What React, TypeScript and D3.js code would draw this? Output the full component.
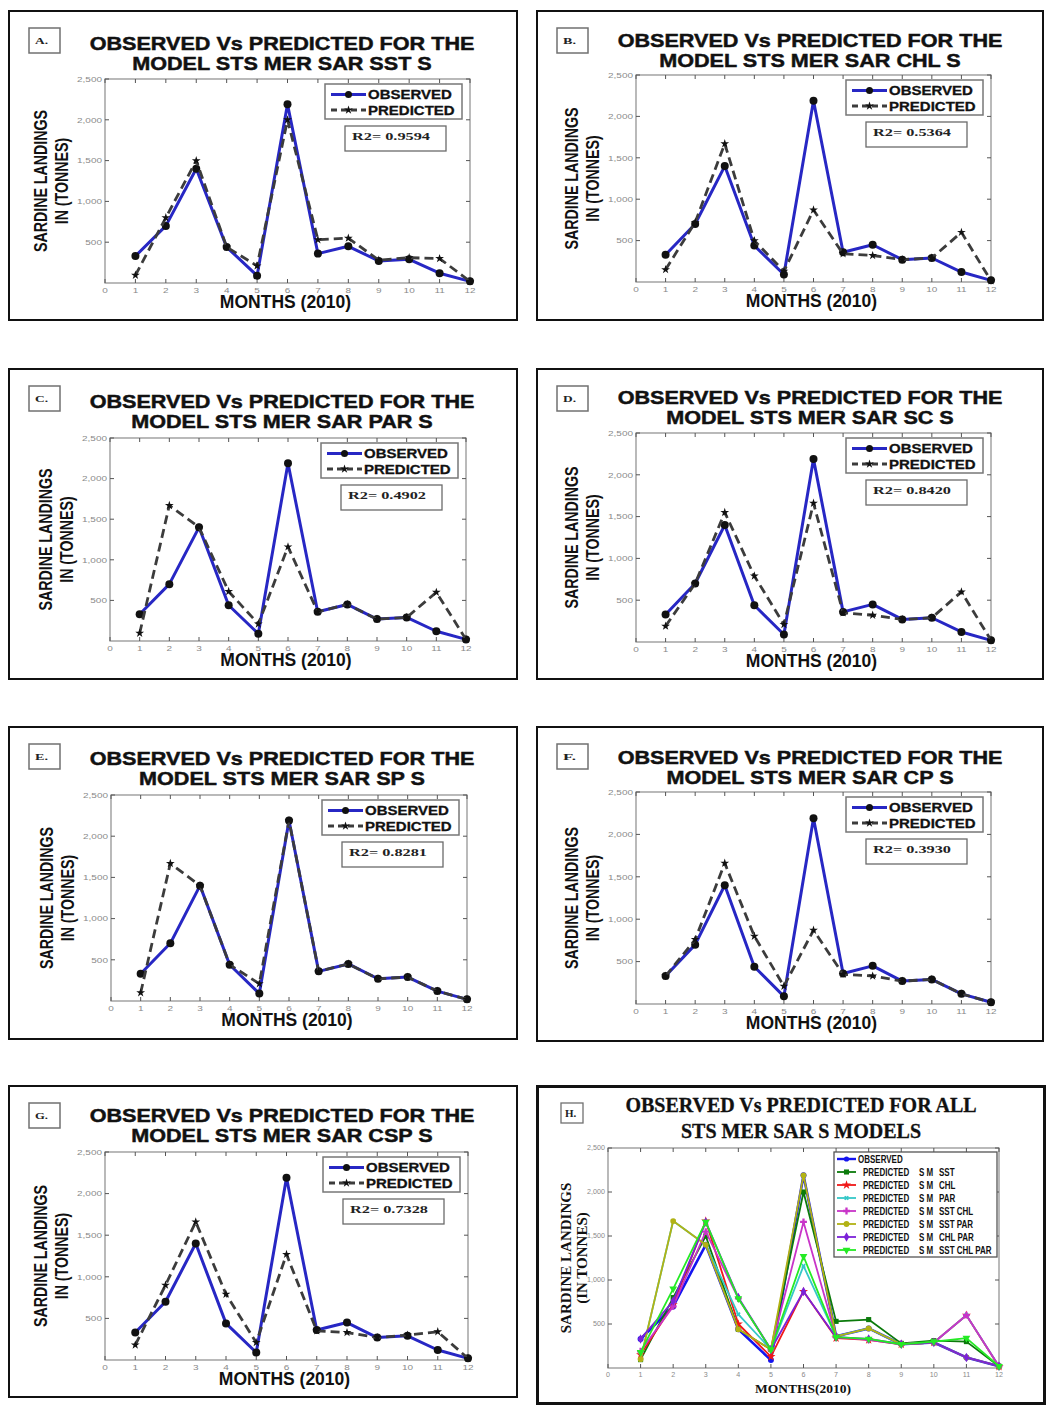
import React, { useRef, useEffect } from 'react';
import * as d3 from 'd3';

// months of 2010 and axis ticks
const months = [1, 2, 3, 4, 5, 6, 7, 8, 9, 10, 11, 12];
const xTicks = [0, 1, 2, 3, 4, 5, 6, 7, 8, 9, 10, 11, 12];
const yTicks = [500, 1000, 1500, 2000, 2500];

// sardine landings (tonnes)
const observed = [330, 700, 1400, 440, 90, 2190, 360, 450, 270, 290, 120, 20];
const predSST = [95, 800, 1500, 440, 210, 2000, 530, 550, 280, 310, 300, 20];
const predCHL = [150, 720, 1670, 500, 130, 870, 340, 320, 270, 290, 600, 15];
const predPAR = [95, 1670, 1400, 610, 210, 1160, 360, 450, 270, 290, 600, 20];
const predSC = [190, 700, 1550, 790, 210, 1660, 350, 320, 270, 290, 600, 20];
const predSP = [100, 1670, 1400, 440, 210, 2190, 360, 450, 270, 290, 120, 20];
const predCP = [330, 760, 1660, 800, 210, 870, 350, 330, 270, 290, 120, 20];
const predCSP = [180, 900, 1660, 790, 210, 1270, 350, 330, 270, 300, 340, 20];

const panelLetters = ['A.', 'B.', 'C.', 'D.', 'E.', 'F.', 'G.'];
const modelNames = ['SST', 'CHL', 'PAR', 'SC', 'SP', 'CP', 'CSP'];
const r2Labels = ['0.9594', '0.5364', '0.4902', '0.8420', '0.8281', '0.3930', '0.7328'];
const predictions = [predSST, predCHL, predPAR, predSC, predSP, predCP, predCSP];

// panel H legend
const allModelLabels = ['SST', 'CHL', 'PAR', 'SST CHL', 'SST PAR', 'CHL PAR', 'SST CHL PAR'];

const SANS = "'Liberation Sans', Arial, Helvetica, sans-serif";
const SERIF = "'Liberation Serif', 'Times New Roman', serif";

const allColors = ['#0b7a0b', '#f01818', '#35c8c8', '#c834c8', '#b2b214', '#7c22d8', '#24ea24'];
const allSymbols = [d3.symbolSquare, d3.symbolStar, d3.symbolCross, d3.symbolCross, d3.symbolCircle, d3.symbolDiamond, d3.symbolTriangle];
const allRotate = [0, 0, 45, 0, 0, 0, 180];

// where each small panel sits on the page (box + plot frame, relative)
const PANELS = [
  { x: 8, y: 10, w: 510, h: 311, pl: 97, pr: 462, pt: 69, pb: 273, tb: 40 },
  { x: 536, y: 10, w: 508, h: 311, pl: 100, pr: 455, pt: 65, pb: 272, tb: 37 },
  { x: 8, y: 368, w: 510, h: 312, pl: 102, pr: 458, pt: 70, pb: 273, tb: 40 },
  { x: 536, y: 368, w: 508, h: 312, pl: 100, pr: 455, pt: 65, pb: 274, tb: 36 },
  { x: 8, y: 726, w: 510, h: 314, pl: 103, pr: 459, pt: 69, pb: 275, tb: 39 },
  { x: 536, y: 726, w: 508, h: 316, pl: 100, pr: 455, pt: 66, pb: 278, tb: 38 },
  { x: 8, y: 1085, w: 510, h: 313, pl: 97, pr: 460, pt: 67, pb: 275, tb: 37 },
];
const HP = { x: 536, y: 1085, w: 510, h: 320, pl: 72, pr: 463, pt: 63, pb: 283 };

const fmt = d3.format(',');

function frameAndTicks(g, x, y, p, tickLen, labelSize, labelScale) {
  g.append('rect')
    .attr('x', p.pl).attr('y', p.pt)
    .attr('width', p.pr - p.pl).attr('height', p.pb - p.pt)
    .attr('fill', '#fff').attr('stroke', '#8c8c8c').attr('stroke-width', 1.2);

  xTicks.forEach(v => {
    g.append('line').attr('x1', x(v)).attr('x2', x(v)).attr('y1', p.pt).attr('y2', p.pt + tickLen)
      .attr('stroke', '#555').attr('stroke-width', 1);
    g.append('line').attr('x1', x(v)).attr('x2', x(v)).attr('y1', p.pb).attr('y2', p.pb - tickLen)
      .attr('stroke', '#555').attr('stroke-width', 1);
    g.append('text')
      .attr('transform', `translate(${x(v)},${p.pb + labelSize + 2}) scale(${labelScale},1)`)
      .attr('text-anchor', 'middle')
      .attr('font-family', SANS).attr('font-size', labelSize).attr('fill', '#8a8a8a')
      .text(v);
  });
  yTicks.forEach(v => {
    g.append('line').attr('x1', p.pl).attr('x2', p.pl + tickLen).attr('y1', y(v)).attr('y2', y(v))
      .attr('stroke', '#555').attr('stroke-width', 1);
    g.append('line').attr('x1', p.pr).attr('x2', p.pr - tickLen).attr('y1', y(v)).attr('y2', y(v))
      .attr('stroke', '#555').attr('stroke-width', 1);
    g.append('text')
      .attr('transform', `translate(${p.pl - 3},${y(v) + labelSize * 0.35}) scale(${labelScale},1)`)
      .attr('text-anchor', 'end')
      .attr('font-family', SANS).attr('font-size', labelSize).attr('fill', '#8a8a8a')
      .text(fmt(v));
  });
}

function drawPanel(svg, p, i) {
  const g = svg.append('g').attr('transform', `translate(${p.x},${p.y})`);

  g.append('rect').attr('x', 1).attr('y', 1).attr('width', p.w - 2).attr('height', p.h - 2)
    .attr('fill', '#fff').attr('stroke', '#111').attr('stroke-width', 2);

  // letter box
  g.append('rect').attr('x', 21).attr('y', 18).attr('width', 31).attr('height', 25)
    .attr('fill', 'none').attr('stroke', '#707070').attr('stroke-width', 1.5);
  g.append('text').attr('x', 27).attr('y', 34)
    .attr('font-family', SERIF).attr('font-weight', 'bold').attr('font-size', 9)
    .attr('textLength', 13).attr('lengthAdjust', 'spacingAndGlyphs').attr('fill', '#222')
    .text(panelLetters[i]);

  // title
  const titles = ['OBSERVED Vs PREDICTED FOR THE', `MODEL STS MER SAR ${modelNames[i]} S`];
  titles.forEach((t, k) => {
    g.append('text')
      .attr('transform', `translate(274,${p.tb + k * 20}) scale(1.2,1)`)
      .attr('text-anchor', 'middle')
      .attr('font-family', SANS).attr('font-weight', 'bold').attr('font-size', 18).attr('fill', '#111')
      .attr('stroke', '#111').attr('stroke-width', 0.45)
      .text(t);
  });

  const x = d3.scaleLinear().domain([0, 12]).range([p.pl, p.pr]);
  const y = d3.scaleLinear().domain([0, 2500]).range([p.pb, p.pt]);

  frameAndTicks(g, x, y, p, 4, 8, 1.25);

  const line = d3.line<number>().x((d, j) => x(months[j])).y(d => y(d));

  g.append('path').datum(observed).attr('d', line)
    .attr('fill', 'none').attr('stroke', '#2727c4').attr('stroke-width', 3).attr('stroke-linejoin', 'round');
  g.selectAll('.obs').data(observed).enter().append('circle')
    .attr('cx', (d, j) => x(months[j])).attr('cy', d => y(d)).attr('r', 4).attr('fill', '#111');

  const pred = predictions[i];
  g.append('path').datum(pred).attr('d', line)
    .attr('fill', 'none').attr('stroke', '#3c3c3c').attr('stroke-width', 2.8)
    .attr('stroke-dasharray', '9,5').attr('stroke-linejoin', 'round');
  const star = d3.symbol().type(d3.symbolStar).size(24);
  g.selectAll('.pred').data(pred).enter().append('path')
    .attr('d', star).attr('transform', (d, j) => `translate(${x(months[j])},${y(d)})`).attr('fill', '#111');

  // legend
  const lw = 137, lh = 35;
  const lx = p.pr - 8 - lw, ly = p.pt + 5;
  g.append('rect').attr('x', lx).attr('y', ly).attr('width', lw).attr('height', lh)
    .attr('fill', '#fff').attr('stroke', '#777').attr('stroke-width', 1.5);
  const r1 = ly + 10.5, r2 = ly + 26;
  g.append('line').attr('x1', lx + 6).attr('x2', lx + 41).attr('y1', r1).attr('y2', r1)
    .attr('stroke', '#2727c4').attr('stroke-width', 3);
  g.append('circle').attr('cx', lx + 23.5).attr('cy', r1).attr('r', 3.5).attr('fill', '#111');
  g.append('line').attr('x1', lx + 6).attr('x2', lx + 41).attr('y1', r2).attr('y2', r2)
    .attr('stroke', '#3c3c3c').attr('stroke-width', 2.8).attr('stroke-dasharray', '6,4');
  g.append('path').attr('d', star).attr('transform', `translate(${lx + 23.5},${r2})`).attr('fill', '#111');
  [['OBSERVED', r1], ['PREDICTED', r2]].forEach(([t, yy]) => {
    g.append('text')
      .attr('transform', `translate(${lx + 43},${(yy as number) + 4.5}) scale(1.2,1)`)
      .attr('font-family', SANS).attr('font-weight', 'bold').attr('font-size', 12.5).attr('fill', '#111')
      .attr('stroke', '#111').attr('stroke-width', 0.3)
      .text(t as string);
  });

  // R2 box
  const rx = p.pr - 125, ry = p.pt + 47;
  g.append('rect').attr('x', rx).attr('y', ry).attr('width', 101).attr('height', 25)
    .attr('fill', '#fff').attr('stroke', '#6a6a6a').attr('stroke-width', 1.3);
  g.append('text').attr('x', rx + 7).attr('y', ry + 13.5)
    .attr('font-family', SERIF).attr('font-weight', 'bold').attr('font-size', 11)
    .attr('textLength', 78).attr('lengthAdjust', 'spacingAndGlyphs').attr('fill', '#222')
    .text(`R2= ${r2Labels[i]}`);

  // axis titles
  g.append('text').attr('x', (p.pl + p.pr) / 2 - 2).attr('y', p.pb + 25)
    .attr('text-anchor', 'middle')
    .attr('font-family', SANS).attr('font-weight', 'bold').attr('font-size', 17.5).attr('fill', '#111')
    .text('MONTHS (2010)');
  const cy = (p.pt + p.pb) / 2;
  [['SARDINE LANDINGS', p.pl - 58.5], ['IN (TONNES)', p.pl - 37.5]].forEach(([t, bx]) => {
    g.append('text')
      .attr('transform', `translate(${bx},${cy}) rotate(-90) scale(0.79,1)`)
      .attr('text-anchor', 'middle')
      .attr('font-family', SANS).attr('font-weight', 'bold').attr('font-size', 18).attr('fill', '#111')
      .text(t as string);
  });
}

function drawAllModels(svg) {
  const p = HP;
  const g = svg.append('g').attr('transform', `translate(${p.x},${p.y})`);
  g.append('rect').attr('x', 1.5).attr('y', 1.5).attr('width', p.w - 3).attr('height', p.h - 3)
    .attr('fill', '#fff').attr('stroke', '#111').attr('stroke-width', 3);

  g.append('rect').attr('x', 25).attr('y', 18).attr('width', 22).attr('height', 20)
    .attr('fill', 'none').attr('stroke', '#707070').attr('stroke-width', 1.3);
  g.append('text').attr('x', 29).attr('y', 32)
    .attr('font-family', SERIF).attr('font-weight', 'bold').attr('font-size', 11).attr('fill', '#222')
    .text('H.');

  ['OBSERVED Vs PREDICTED FOR ALL', 'STS MER SAR S MODELS'].forEach((t, k) => {
    g.append('text').attr('x', 265).attr('y', 27 + k * 26)
      .attr('text-anchor', 'middle')
      .attr('font-family', SERIF).attr('font-weight', 'bold').attr('font-size', 20).attr('fill', '#111')
      .attr('stroke', '#111').attr('stroke-width', 0.3)
      .text(t);
  });

  const x = d3.scaleLinear().domain([0, 12]).range([p.pl, p.pr]);
  const y = d3.scaleLinear().domain([0, 2500]).range([p.pb, p.pt]);
  frameAndTicks(g, x, y, p, 4, 6.5, 1.1);

  const line = d3.line<number>().x((d, j) => x(months[j])).y(d => y(d));

  g.append('path').datum(observed).attr('d', line)
    .attr('fill', 'none').attr('stroke', '#1414f0').attr('stroke-width', 2.6).attr('stroke-linejoin', 'round');
  g.selectAll('.hobs').data(observed).enter().append('circle')
    .attr('cx', (d, j) => x(months[j])).attr('cy', d => y(d)).attr('r', 3).attr('fill', '#1414f0');

  predictions.forEach((pred, k) => {
    g.append('path').datum(pred).attr('d', line)
      .attr('fill', 'none').attr('stroke', allColors[k]).attr('stroke-width', 1.8).attr('stroke-linejoin', 'round');
    const sym = d3.symbol().type(allSymbols[k]).size(k === 2 ? 14 : 26);
    g.selectAll(`.hp${k}`).data(pred).enter().append('path')
      .attr('d', sym)
      .attr('transform', (d, j) => `translate(${x(months[j])},${y(d)}) rotate(${allRotate[k]})`)
      .attr('fill', allColors[k]);
  });

  // legend
  const lx = 298, ly = 67;
  g.append('rect').attr('x', lx).attr('y', ly).attr('width', 163).attr('height', 105)
    .attr('fill', '#fff').attr('stroke', '#555').attr('stroke-width', 1.3);
  const rowY = (k: number) => ly + 7 + k * 13;
  const legendText = (t: string, tx: number, ty: number) =>
    g.append('text')
      .attr('transform', `translate(${tx},${ty + 3.6}) scale(0.8,1)`)
      .attr('font-family', SANS).attr('font-weight', 'bold').attr('font-size', 10).attr('fill', '#111')
      .text(t);

  g.append('line').attr('x1', lx + 3).attr('x2', lx + 22).attr('y1', rowY(0)).attr('y2', rowY(0))
    .attr('stroke', '#1414f0').attr('stroke-width', 2.4);
  g.append('circle').attr('cx', lx + 12.5).attr('cy', rowY(0)).attr('r', 2.6).attr('fill', '#1414f0');
  legendText('OBSERVED', lx + 24, rowY(0));

  allModelLabels.forEach((lab, k) => {
    const yy = rowY(k + 1);
    g.append('line').attr('x1', lx + 3).attr('x2', lx + 22).attr('y1', yy).attr('y2', yy)
      .attr('stroke', allColors[k]).attr('stroke-width', 1.8);
    g.append('path').attr('d', d3.symbol().type(allSymbols[k]).size(k === 2 ? 14 : 26))
      .attr('transform', `translate(${lx + 12.5},${yy}) rotate(${allRotate[k]})`)
      .attr('fill', allColors[k]);
    legendText('PREDICTED', lx + 29, yy);
    legendText('S M', lx + 85, yy);
    legendText(lab, lx + 105, yy);
  });

  g.append('text').attr('x', 267).attr('y', 308)
    .attr('text-anchor', 'middle')
    .attr('font-family', SERIF).attr('font-weight', 'bold').attr('font-size', 13.5).attr('fill', '#111')
    .text('MONTHS(2010)');
  [['SARDINE LANDINGS', 35], ['(IN TONNES)', 51]].forEach(([t, bx]) => {
    g.append('text')
      .attr('transform', `translate(${bx},173) rotate(-90)`)
      .attr('text-anchor', 'middle')
      .attr('font-family', SERIF).attr('font-weight', 'bold').attr('font-size', 15).attr('fill', '#111')
      .text(t as string);
  });
}

export default function App() {
  const svgRef = useRef<SVGSVGElement>(null);

  useEffect(() => {
    const svg = d3.select(svgRef.current);
    svg.selectAll('*').remove();
    PANELS.forEach((p, i) => drawPanel(svg, p, i));
    drawAllModels(svg);
  }, []);

  return (
    <svg
      ref={svgRef}
      width={1049}
      height={1410}
      style={{ position: 'absolute', left: 0, top: 0, background: '#fff' }}
    />
  );
}
